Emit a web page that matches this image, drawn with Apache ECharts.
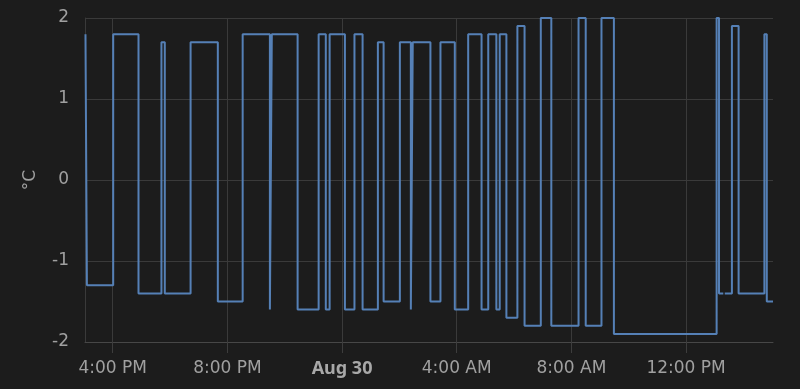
<!DOCTYPE html>
<html><head><meta charset="utf-8">
<script src="https://cdn.jsdelivr.net/npm/echarts@6/dist/echarts.min.js"></script>
<style>html,body{margin:0;padding:0;background:#1c1c1c}#c{width:800px;height:389px}</style>
</head><body><div id="c"></div>
<script>
const rangeStart = '2024-08-29 15:02';
const rangeEnd = '2024-08-30 15:02';
const tickTimes = ['2024-08-29 16:00','2024-08-29 20:00','2024-08-30 00:00','2024-08-30 04:00','2024-08-30 08:00','2024-08-30 12:00'];
const yTicks = { min: -2, max: 2, step: 1 };
const unitName = '°C';

// times at which the reading changed, and the new reading
const changeTimes = [
 '2024-08-29 15:03','2024-08-29 15:06','2024-08-29 16:01','2024-08-29 16:54','2024-08-29 17:42',
 '2024-08-29 17:49','2024-08-29 18:43','2024-08-29 19:40','2024-08-29 20:32','2024-08-29 21:29',
 '2024-08-29 21:33','2024-08-29 22:27','2024-08-29 23:11','2024-08-29 23:26','2024-08-29 23:34',
 '2024-08-30 00:06','2024-08-30 00:26','2024-08-30 00:43','2024-08-30 01:15','2024-08-30 01:27',
 '2024-08-30 02:01','2024-08-30 02:24','2024-08-30 02:28','2024-08-30 03:05','2024-08-30 03:26',
 '2024-08-30 03:56','2024-08-30 04:24','2024-08-30 04:52','2024-08-30 05:06','2024-08-30 05:23',
 '2024-08-30 05:30','2024-08-30 05:44','2024-08-30 06:07','2024-08-30 06:22','2024-08-30 06:56',
 '2024-08-30 07:18','2024-08-30 08:15','2024-08-30 08:30','2024-08-30 09:03','2024-08-30 09:29',
 '2024-08-30 13:04','2024-08-30 13:09','2024-08-30 13:16','2024-08-30 13:18','2024-08-30 13:21',
 '2024-08-30 13:36','2024-08-30 13:50','2024-08-30 14:44','2024-08-30 14:49','2024-08-30 15:02'
];
const temps = [
 1.8,-1.3,1.8,-1.4,1.7,
 -1.4,1.7,-1.5,1.8,-1.6,
 1.8,-1.6,1.8,-1.6,1.8,
 -1.6,1.8,-1.6,1.7,-1.5,
 1.7,-1.6,1.7,-1.5,1.7,
 -1.6,1.8,-1.6,1.8,-1.6,
 1.8,-1.7,1.9,-1.8,2.0,
 -1.8,2.0,-1.8,2.0,-1.9,
 2.0,-1.4,-1.4,null,-1.4,
 1.9,-1.4,1.8,-1.5,-1.5
];

function ts(s){
  const [d,t] = s.split(' ');
  const [Y,M,D] = d.split('-').map(Number);
  const [h,m] = t.split(':').map(Number);
  return new Date(Y,M-1,D,h,m).getTime();
}
const MONTHS = ['Jan','Feb','Mar','Apr','May','Jun','Jul','Aug','Sep','Oct','Nov','Dec'];
function fmt(v){
  const d = new Date(v);
  const h = d.getHours(), m = d.getMinutes();
  if (h === 0 && m === 0) return '{b|' + MONTHS[d.getMonth()] + ' ' + d.getDate() + '}';
  const hh = ((h + 11) % 12) + 1;
  return hh + ':' + String(m).padStart(2,'0') + ' ' + (h < 12 ? 'AM' : 'PM');
}

const gridColor = '#3a3a3a';
const textColor = '#a0a0a0';
const lineColor = '#5580b6';
const tickVals = tickTimes.map(ts);

const chart = echarts.init(document.getElementById('c'), null, {renderer:'canvas'});
chart.setOption({
  backgroundColor: '#1c1c1c',
  animation: false,
  grid: { left: 85, right: 27, top: 18, bottom: 47, containLabel: false },
  xAxis: {
    type: 'value',
    min: ts(rangeStart), max: ts(rangeEnd),
    axisLine: { show: true, onZero: false, lineStyle: { color: '#474747', width: 1 } },
    axisTick: { show: true, inside: false, length: 11, lineStyle: { color: '#3d3d3d', width: 1 }, customValues: tickVals },
    axisLabel: {
      customValues: tickVals, formatter: fmt, color: textColor, fontSize: 17,
      fontFamily: 'DejaVu Sans', margin: 18,
      rich: { b: { fontWeight: 'bold', fontFamily: 'Noto Sans', fontSize: 18, color: '#a8a8a8' } }
    },
    splitLine: { show: true, lineStyle: { color: gridColor, width: 1 } }
  },
  yAxis: {
    type: 'value', min: yTicks.min, max: yTicks.max, interval: yTicks.step,
    name: unitName, nameLocation: 'middle', nameGap: 46, nameRotate: 90,
    nameTextStyle: { color: textColor, fontSize: 17, fontFamily: 'DejaVu Sans' },
    axisLine: { show: true, onZero: false, lineStyle: { color: gridColor } },
    axisTick: { show: false },
    axisLabel: { color: textColor, fontSize: 17, fontFamily: 'DejaVu Sans', margin: 16 },
    splitLine: { show: true, lineStyle: { color: gridColor, width: 1 } }
  },
  series: [{
    type: 'line', step: 'end', showSymbol: false, connectNulls: false,
    lineStyle: { color: lineColor, width: 2 },
    itemStyle: { color: lineColor },
    data: changeTimes.map((t,i) => [ts(t), temps[i]])
  }]
});
</script></body></html>
